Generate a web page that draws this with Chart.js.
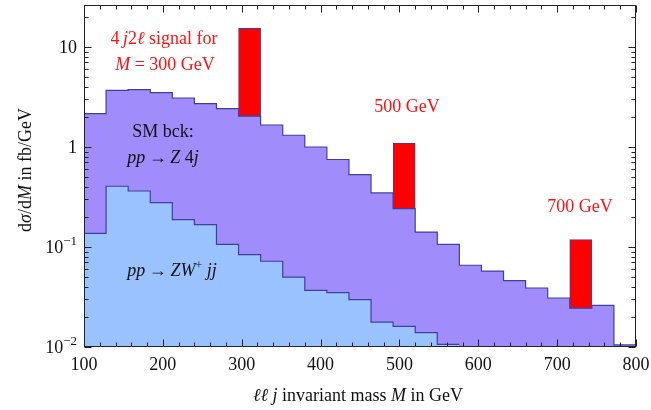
<!DOCTYPE html>
<html>
<head>
<meta charset="utf-8">
<script src="https://cdn.jsdelivr.net/npm/chart.js@4.4.1/dist/chart.umd.min.js"></script>
<style>
  body { margin: 0; background: #fff; }
  canvas { display: block; }
</style>
</head>
<body>
<canvas id="massChart" width="651" height="410"></canvas>
<script>
// bin edges in GeV (28 GeV bins)
var binEdges = [100, 128, 156, 184, 212, 240, 268, 296, 324, 352, 380, 408, 436, 464,
                492, 520, 548, 576, 604, 632, 660, 688, 716, 744, 772, 800];

// SM background pp -> Z 4j, dsigma/dM in fb/GeV per bin
var zjjjj = [2.16, 3.69, 3.75, 3.50, 3.09, 2.72, 2.42, 2.04, 1.66, 1.31, 1.00, 0.75, 0.53,
             0.347, 0.242, 0.141, 0.106, 0.0657, 0.0575, 0.0461, 0.0389, 0.0309, 0.0245,
             0.0261, 0.0105];

// SM background pp -> Z W+ jj (falls below 10^-2 after 576 GeV)
var zwjj = [0.137, 0.405, 0.363, 0.278, 0.188, 0.1675, 0.1064, 0.0839, 0.072, 0.050,
            0.0369, 0.035, 0.0298, 0.0177, 0.0161, 0.0139, 0.0106];

// 4j2l signal, stacked on top of the background in the bin holding M
var signalMass = [300, 500, 700];
var signalBinLow = [296, 492, 716];
var signalRate = [13.3, 0.855, 0.094];

var xTickLabels = ['100', '200', '300', '400', '500', '600', '700', '800'];
var yTickValues = [0.01, 0.1, 1, 10];

var SERIF = '"Liberation Serif", "DejaVu Serif", serif';
var NAVY = 'rgb(64, 64, 156)';

function stepPoints(values) {
    var pts = [];
    for (var i = 0; i < values.length; i++) {
        pts.push({ x: binEdges[i], y: values[i] });
    }
    pts.push({ x: binEdges[values.length], y: values[values.length - 1] });
    return pts;
}

// one floating bar per bin, only filled where a signal sits
function signalBars() {
    var bars = [];
    for (var i = 0; i < zjjjj.length; i++) {
        var centre = (binEdges[i] + binEdges[i + 1]) / 2;
        var k = signalBinLow.indexOf(binEdges[i]);
        if (k >= 0) {
            bars.push({ x: centre, y: [zjjjj[i], zjjjj[i] + signalRate[k]] });
        } else {
            bars.push({ x: centre, y: null });
        }
    }
    return bars;
}

function fontOf(style, size) {
    return (style === 'i' ? 'italic ' : '') + size + 'px ' + SERIF;
}

// parts: [text, style, size, rise]
function richText(ctx, parts, x, y, align) {
    var w = 0;
    parts.forEach(function(p) {
        ctx.font = fontOf(p[1], p[2] || 18);
        w += ctx.measureText(p[0]).width;
    });
    var cx = align === 'center' ? x - w / 2 : (align === 'right' ? x - w : x);
    ctx.textAlign = 'left';
    ctx.textBaseline = 'alphabetic';
    parts.forEach(function(p) {
        ctx.font = fontOf(p[1], p[2] || 18);
        ctx.fillText(p[0], cx, y - (p[3] || 0));
        cx += ctx.measureText(p[0]).width;
    });
}

var framePlugin = {
    id: 'frame',
    afterDatasetsDraw: function(chart) {
        var ctx = chart.ctx;
        var a = chart.chartArea;
        var xs = chart.scales.x, ys = chart.scales.y;
        var L = Math.round(a.left) + 0.5, R = Math.round(a.right) - 0.5;
        var T = Math.round(a.top) + 0.5, B = Math.round(a.bottom) - 0.5;

        ctx.save();
        ctx.strokeStyle = '#222';
        ctx.lineWidth = 1;
        ctx.strokeRect(L, T, R - L, B - T);

        ctx.beginPath();
        // x ticks, major every 100 GeV, minor every 20 GeV
        for (var v = 100; v <= 800; v += 20) {
            var px = Math.round(xs.getPixelForValue(v)) + 0.5;
            var len = v % 100 === 0 ? 7 : 4;
            ctx.moveTo(px, B); ctx.lineTo(px, B - len);
            ctx.moveTo(px, T); ctx.lineTo(px, T + len);
        }
        // y ticks, decades and 2..9 in between
        for (var e = -2; e <= 1; e++) {
            for (var m = 1; m <= 9; m++) {
                var val = m * Math.pow(10, e);
                if (val > ys.max) break;
                var py = Math.round(ys.getPixelForValue(val)) + 0.5;
                var l2 = m === 1 ? 7 : 4;
                ctx.moveTo(L, py); ctx.lineTo(L + l2, py);
                ctx.moveTo(R, py); ctx.lineTo(R - l2, py);
            }
        }
        ctx.stroke();

        ctx.fillStyle = '#111';
        // x tick labels
        xTickLabels.forEach(function(t) {
            richText(ctx, [[t, 'n']], xs.getPixelForValue(Number(t)), 370, 'center');
        });
        // y tick labels
        yTickValues.forEach(function(val) {
            var py = ys.getPixelForValue(val) + 6;
            var ex = Math.round(Math.log10(val));
            if (ex >= 0) {
                richText(ctx, [[String(val), 'n']], 77, py, 'right');
            } else {
                richText(ctx, [['10', 'n'], ['\u2212' + (-ex), 'n', 13, 8]], 77, py, 'right');
            }
        });

        // axis titles
        richText(ctx, [['\u2113\u2113', 'i'], [' ', 'n'], ['j', 'i'], [' invariant mass ', 'n'],
                       ['M', 'i'], [' in GeV', 'n']], 358, 401, 'center');
        ctx.save();
        ctx.translate(31, 170);
        ctx.rotate(-Math.PI / 2);
        richText(ctx, [['d', 'n'], ['\u03c3', 'i'], ['/d', 'n'], ['M', 'i'], [' in fb/GeV', 'n']], 0, 0, 'center');
        ctx.restore();

        // background labels
        richText(ctx, [['SM bck:', 'n']], 163, 137, 'center');
        richText(ctx, [['pp', 'i'], ['\u2009\u2192\u2009', 'n'], ['Z', 'i'], [' 4', 'n'], ['j', 'i']], 163, 163, 'center');
        richText(ctx, [['pp', 'i'], ['\u2009\u2192\u2009', 'n'], ['ZW', 'i'], ['+', 'n', 12, 7], [' jj', 'i']], 172, 276, 'center');

        // signal labels
        ctx.fillStyle = '#ff1010';
        richText(ctx, [['4\u2009', 'n'], ['j', 'i'], ['2', 'n'], ['\u2113', 'i'], [' signal for', 'n']], 164, 44, 'center');
        richText(ctx, [['M', 'i'], [' = ' + signalMass[0] + ' GeV', 'n']], 165, 70, 'center');
        richText(ctx, [[signalMass[1] + ' GeV', 'n']], 407, 112, 'center');
        richText(ctx, [[signalMass[2] + ' GeV', 'n']], 580, 212, 'center');
        ctx.restore();
    }
};

var ctx = document.getElementById('massChart').getContext('2d');
var massChart = new Chart(ctx, {
    type: 'line',
    data: {
        datasets: [
            {
                type: 'bar',
                label: 'signal',
                data: signalBars(),
                backgroundColor: 'rgb(255, 0, 0)',
                borderColor: NAVY,
                borderWidth: 1,
                borderSkipped: false,
                barPercentage: 1,
                categoryPercentage: 1,
                order: 0
            },
            {
                label: 'pp -> ZW+ jj',
                data: stepPoints(zwjj),
                stepped: 'before',
                borderColor: NAVY,
                borderWidth: 1.2,
                backgroundColor: 'rgb(153, 194, 255)',
                fill: 'start',
                pointRadius: 0,
                order: 1
            },
            {
                label: 'pp -> Z 4j',
                data: stepPoints(zjjjj),
                stepped: 'before',
                borderColor: NAVY,
                borderWidth: 1.2,
                backgroundColor: 'rgb(160, 140, 250)',
                fill: 'start',
                pointRadius: 0,
                order: 2
            }
        ]
    },
    options: {
        responsive: false,
        animation: false,
        layout: { padding: { left: 84, right: 15, top: 5, bottom: 63 } },
        plugins: {
            legend: { display: false },
            tooltip: { enabled: false }
        },
        scales: {
            x: {
                type: 'linear',
                display: false,
                offset: false,
                min: 100,
                max: 800,
                ticks: { stepSize: 100 }
            },
            y: {
                type: 'logarithmic',
                display: false,
                min: 0.01,
                max: 26.3
            }
        }
    },
    plugins: [framePlugin]
});
</script>
</body>
</html>
